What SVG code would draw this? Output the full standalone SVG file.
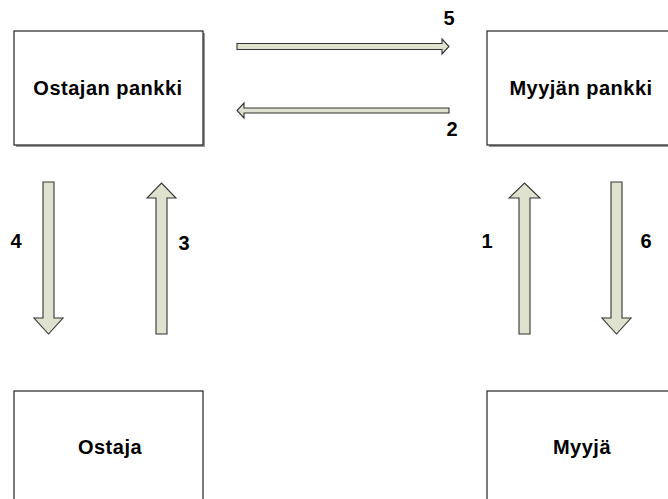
<svg xmlns="http://www.w3.org/2000/svg" width="668" height="499" viewBox="0 0 668 499">
<style>
.box{fill:#fff;stroke:#222;stroke-width:1.2}
.shadow{fill:#999}
.lbl{font-family:"Liberation Sans",Arial,sans-serif;font-weight:bold;font-size:20px;letter-spacing:0.5px;fill:#000;text-anchor:middle}
.num{font-family:"Liberation Sans",Arial,sans-serif;font-weight:bold;font-size:20px;fill:#000;text-anchor:middle}
.arr{fill:#dfe2cf;stroke:#333;stroke-width:1.1;stroke-linejoin:miter}
</style>
<rect width="668" height="499" fill="#fff"/>
<g id="ostajan-pankki">
<rect class="shadow" x="16" y="33" width="189" height="114"/>
<rect class="box" x="14" y="31" width="189" height="114"/>
<text class="lbl" x="108" y="95">Ostajan pankki</text>
</g>
<g id="myyjan-pankki">
<rect class="shadow" x="489" y="33" width="190" height="114"/>
<rect class="box" x="487" y="31" width="190" height="114"/>
<text class="lbl" x="581" y="95">Myyjän pankki</text>
</g>
<g id="ostaja">
<rect class="box" x="14" y="391" width="189" height="120"/>
<text class="lbl" x="110" y="454">Ostaja</text>
</g>
<g id="myyja">
<rect class="box" x="487" y="391" width="190" height="120"/>
<text class="lbl" x="582" y="454">Myyjä</text>
</g>
<g id="connectors">
<path class="arr" d="M237,43.5 H442 V39 L449,46.5 L442,54 V49.5 H237 Z"/>
<path class="arr" d="M449,108 H244 V103 L237,110.5 L244,118 V113 H449 Z"/>
<path class="arr" d="M43,182 H54 V318 H63 L48.5,334 L34,318 H43 Z"/>
<path class="arr" d="M156,334 V198 H147 L161.5,183 L176,198 H167 V334 Z"/>
<path class="arr" d="M519,334 V198 H509 L524.5,183 L540,198 H530 V334 Z"/>
<path class="arr" d="M611,182 H622 V318 H631 L616.5,334 L602,318 H611 Z"/>
<text class="num" x="449" y="25">5</text>
<text class="num" x="452" y="136">2</text>
<text class="num" x="16" y="248">4</text>
<text class="num" x="184" y="250">3</text>
<text class="num" x="487" y="248">1</text>
<text class="num" x="646" y="248">6</text>
</g>
</svg>
